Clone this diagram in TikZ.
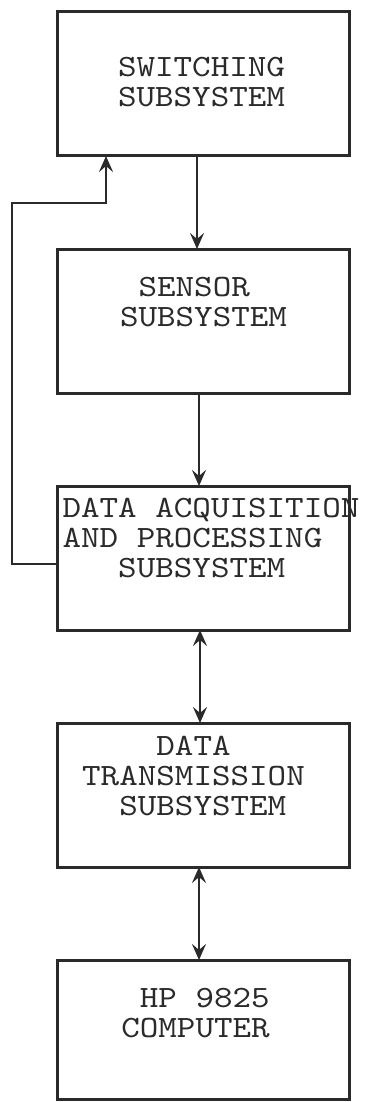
\documentclass[tikz,border=0pt]{standalone}
\usepackage{fontspec}
\setmonofont[FakeStretch=1.14]{lmmono10-regular.otf}
\usepackage{tikz}
\usetikzlibrary{arrows.meta,positioning}
\definecolor{ink}{HTML}{2A2A2A}
\tikzset{
  ssbox/.style={draw=ink, line width=3pt, minimum width=292pt, minimum height=144pt, inner sep=0pt, outer sep=0pt},
  sstext/.style={font=\ttfamily\fontsize{31}{30}\selectfont, text=ink, align=left, inner sep=0pt},
  ssline/.style={-{Stealth[length=16pt,width=14pt,inset=6pt]}, draw=ink, line width=2.4pt},
  ssboth/.style={{Stealth[length=16pt,width=14pt,inset=6pt]}-{Stealth[length=16pt,width=14pt,inset=6pt]}, draw=ink, line width=2.4pt}
}

\begin{document}
\begin{tikzpicture}[node distance=93pt]
  \useasboundingbox (0,0) rectangle (369pt,-1102pt);

  % subsystem blocks, top to bottom
  \node[ssbox] (sw) at (203pt,-84pt) {};
  \node[ssbox, below=of sw] (sen) {};
  \node[ssbox, below=of sen] (daq) {};
  \node[ssbox, below=of daq] (dtx) {};
  \node[ssbox, below=of dtx, minimum height=139pt] (hp) {};

  % typed labels
  \node[sstext] (swt) at ([xshift=-1.5pt,yshift=-70pt]sw.north) {SWITCHING\\SUBSYSTEM};
  \node[sstext] (sent) at ([xshift=0.5pt,yshift=-53pt]sen.north) {\phantom{X}SENSOR\\SUBSYSTEM};
  \node[sstext] (daqt) at ([xshift=8pt,yshift=-52pt]daq.north) {DATA ACQUISITION\\AND PROCESSING\\\phantom{XXX}SUBSYSTEM};
  \node[sstext] (dtxt) at ([xshift=-9.5pt,yshift=-53pt]dtx.north) {\phantom{XXXX}DATA\\TRANSMISSION\\\phantom{XX}SUBSYSTEM};
  \node[sstext] (hpt) at ([xshift=-7.5pt,yshift=-53pt]hp.north) {\phantom{X}HP 9825\\COMPUTER};

  % main chain
  \draw[ssline] ([xshift=-6pt]sw.south) -- ([xshift=-6pt]sen.north);
  \draw[ssline] ([xshift=-4pt]sen.south) -- ([xshift=-4pt]daq.north);
  \draw[ssboth] ([xshift=-3pt]daq.south) -- ([xshift=-3pt]dtx.north);
  \draw[ssboth] ([xshift=-4pt]dtx.south) -- ([xshift=-4pt]hp.north);

  % feedback from acquisition back to switching
  \coordinate (fbs) at ([yshift=-6pt]daq.west);
  \coordinate (fbl) at ([xshift=-45pt]sw.west);
  \coordinate (fbk) at ([xshift=49pt,yshift=-47pt]sw.south west);
  \draw[ssline] (fbs) -- (fbs -| fbl) |- (fbk) -- (fbk |- sw.south);
\end{tikzpicture}
\end{document}
